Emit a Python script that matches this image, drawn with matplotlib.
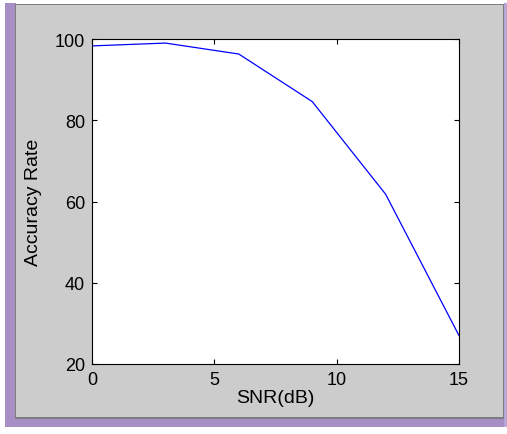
import matplotlib
matplotlib.use("Agg")
import matplotlib.pyplot as plt
from matplotlib.patches import Rectangle

snr = [0, 3, 6, 9, 12, 15]
accuracy = [98.3, 99.0, 96.3, 84.6, 61.8, 27.0]
xticks = [0, 5, 10, 15]
yticks = [20, 40, 60, 80, 100]

plt.rcParams['font.family'] = ['Liberation Sans', 'DejaVu Sans']

W, H = 507, 435
fig = plt.figure(figsize=(W / 100, H / 100), dpi=100, facecolor='white')

def px_rect(x, y, w, h, color):
    # rectangle in pixel coords measured from the top-left corner
    fig.patches.append(Rectangle((x / W, 1 - (y + h) / H), w / W, h / H,
                                 transform=fig.transFigure, facecolor=color,
                                 edgecolor='none', zorder=-10))

# window frame of the screenshot
px_rect(5, 4, 11, 424, '#a78fc6')
px_rect(5, 418, 502, 10, '#a78fc6')
px_rect(504, 4, 3, 424, '#b9a6d6')
px_rect(15, 5, 489, 415, '#7d7d7d')
px_rect(16, 6, 487, 412, '#cccccc')

ax = fig.add_axes([92 / W, 70 / H, 367 / W, 325 / H])
ax.set_zorder(5)
ax.plot(snr, accuracy, color='#0000ff', linewidth=0.9)
ax.set_xlim(0, 15)
ax.set_ylim(20, 100)
ax.set_xticks(xticks)
ax.set_yticks(yticks)
ax.tick_params(direction='in', top=True, right=True, length=3.5, width=0.8,
               labelsize=13, pad=5)
for s in ax.spines.values():
    s.set_linewidth(0.8)
ax.set_xlabel('SNR(dB)', fontsize=14, labelpad=1)
ax.set_ylabel('Accuracy Rate', fontsize=14, labelpad=9)

fig.savefig('out.png', dpi=100, facecolor=fig.get_facecolor())
